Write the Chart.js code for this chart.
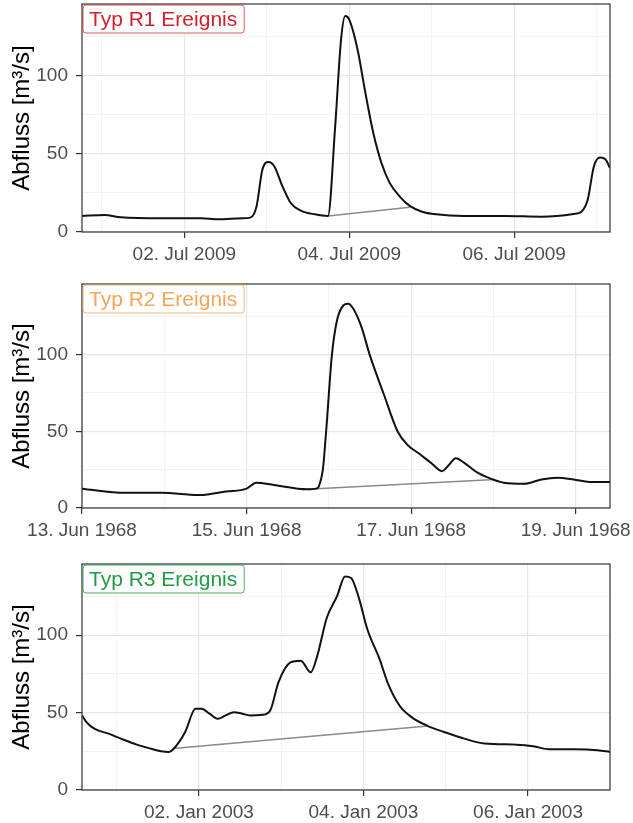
<!DOCTYPE html>
<html>
<head>
<meta charset="utf-8">
<script src="https://cdn.jsdelivr.net/npm/chart.js@4/dist/chart.umd.min.js"></script>
<style>
  html, body { margin: 0; padding: 0; background: #fff; overflow: hidden; }
  body { width: 633px; height: 823px; position: relative; }
  canvas { position: absolute; left: 0; }
</style>
</head>
<body>
<canvas id="r1" width="633" height="265" style="top:0px"></canvas>
<canvas id="r2" width="633" height="261" style="top:280px"></canvas>
<canvas id="r3" width="633" height="263" style="top:560px"></canvas>
<script>
// Abfluss-Ganglinien, Zeit in Stunden ab Mitternacht des jeweiligen Starttags

// R1: ab 01. Jul 2009 00:00
const r1Hours = [-5.8, 0.8, 5.5, 17.3, 29, 33.8, 40.8, 43.2, 45, 46.7, 48.5, 50.2, 52.6, 55, 57.9, 62, 65.8,
  67.9, 69.6, 70.8, 72, 74.4, 76.7, 79, 81.4, 83.8, 86.7, 89.6, 93.2, 97.3, 105.5, 117.3, 127.9, 137.3,
  139.6, 141.4, 143.2, 145, 146.7, 147.9];
const r1Flow = [10.3, 10.9, 9.4, 8.8, 8.8, 8.1, 8.8, 9.2, 16.3, 39.8, 44.8, 42, 29, 18.4, 13.7, 11.3, 10.3,
  67.7, 123, 138.3, 136, 117, 89, 63.4, 44, 31.3, 22.7, 16.7, 13, 11.3, 10.3, 10.3, 9.8, 11.5,
  13, 20.6, 42, 47.7, 46.2, 40.9];
const r1BaseHours = [65.8, 89.6];
const r1BaseFlow = [10.3, 15.8];
const r1TickHours = [24, 72, 120];
const r1TickLabels = ['02. Jul 2009', '04. Jul 2009', '06. Jul 2009'];
const r1MinorHours = [0, 48, 96, 144];

// R2: ab 13. Jun 1968 00:00
const r2Hours = [0, 11.3, 23, 35, 37, 42, 48, 50.8, 56, 65.6, 68.5, 69.1, 70.3, 71.2, 72.9, 74.4, 76.2, 77.6,
  79.1, 81.5, 83.9, 88, 92.1, 95, 98.6, 102, 105, 107, 109, 111.6, 115, 119, 123, 129, 134, 138.7, 143.4, 148, 154];
const r2Flow = [12.6, 10, 10, 8.4, 9, 10.7, 12.6, 16.5, 15, 12.2, 12.8, 14.3, 26, 49.7, 100, 122.5, 132, 133.2,
  130, 118, 100, 74.3, 49.7, 41, 35, 29, 24, 28, 32.5, 29.3, 23.5, 19.3, 16.5, 15.8, 18.6, 19.7, 18.6, 17, 17];
const r2BaseHours = [65.6, 120.4];
const r2BaseFlow = [12.2, 18.6];
const r2TickHours = [0, 48, 96, 144];
const r2TickLabels = ['13. Jun 1968', '15. Jun 1968', '17. Jun 1968', '19. Jun 1968'];
const r2MinorHours = [24, 72, 120];

// R3: ab 01. Jan 2003 00:00
const r3Hours = [-10.1, -8.8, -6.5, -2.4, 1.2, 5.9, 10.6, 13, 15.3, 16.5, 20, 23, 24.8, 27.1, 29.5, 31.8,
  34.2, 36.6, 38.9, 42.5, 44.8, 47.2, 50.7, 53.7, 56.6, 58.4, 61.3, 64.3, 66.6, 68.4, 70.8, 73.1, 76.7,
  79, 82.5, 86, 90.8, 95.5, 101.4, 107.3, 116.7, 121.5, 126.2, 133.3, 140.3, 143.9];
const r3Flow = [48.2, 43.9, 39.6, 36.4, 33.2, 29.3, 26.3, 25, 24.6, 26.3, 37.5, 52.5, 52.5, 49.3, 46, 48.2,
  50.3, 49.3, 48.2, 48.6, 51.4, 69.6, 82.4, 83.5, 76, 85.7, 111.3, 125.3, 138, 137, 123, 104, 84.6,
  69.6, 54.6, 47.1, 41.3, 37.5, 33.2, 30, 29.3, 28.3, 26.3, 26.3, 25.7, 24.6];
const r3BaseHours = [16.5, 90.8];
const r3BaseFlow = [26.8, 41.3];
const r3TickHours = [24, 72, 120];
const r3TickLabels = ['02. Jan 2003', '04. Jan 2003', '06. Jan 2003'];
const r3MinorHours = [0, 48, 96, 144];

const yTicks = [0, 50, 100];
const yMinor = [25, 75, 125];

const FONT = '"Liberation Sans", Arial, Helvetica, sans-serif';
Chart.defaults.font.family = FONT;

const toPoints = (xs, ys) => xs.map((x, i) => ({ x: x, y: ys[i] }));

// Rahmen um die Zeichenfläche und Ereignis-Kennung oben links
const framePlugin = {
  id: 'frame',
  afterDatasetsDraw(chart, args, opts) {
    const { ctx, chartArea: a } = chart;
    ctx.save();
    ctx.strokeStyle = '#333333';
    ctx.lineWidth = 1.2;
    ctx.strokeRect(a.left, a.top, a.width, a.height);

    ctx.font = '21px ' + FONT;
    const tw = ctx.measureText(opts.text).width;
    const bx = a.left + 1, by = a.top + 1, bw = tw + 13, bh = 28;
    ctx.beginPath();
    ctx.roundRect(bx, by, bw, bh, 3);
    ctx.fillStyle = '#ffffff';
    ctx.fill();
    ctx.strokeStyle = opts.border;
    ctx.lineWidth = 1;
    ctx.stroke();
    ctx.fillStyle = opts.color;
    ctx.textBaseline = 'middle';
    ctx.fillText(opts.text, bx + 6, by + bh / 2 + 1);
    ctx.restore();
  }
};

function makePanel(id, cfg) {
  const majorX = cfg.ticks;
  const allX = majorX.concat(cfg.minor).sort((a, b) => a - b);
  const allY = yTicks.concat(yMinor).sort((a, b) => a - b);
  const isMajorX = v => majorX.includes(v);
  const isMajorY = v => yTicks.includes(v);

  new Chart(document.getElementById(id), {
    type: 'line',
    data: {
      datasets: [{
        data: toPoints(cfg.hours, cfg.flow),
        borderColor: '#111111',
        borderWidth: 2,
        pointRadius: 0,
        cubicInterpolationMode: 'monotone'
      }, {
        data: toPoints(cfg.baseHours, cfg.baseFlow),
        borderColor: '#8a8a8a',
        borderWidth: 1.5,
        pointRadius: 0
      }]
    },
    options: {
      responsive: false,
      animation: false,
      layout: { padding: { top: 4, right: 23, bottom: 0, left: 0 } },
      plugins: {
        legend: { display: false },
        tooltip: { enabled: false },
        frame: { text: cfg.tag, color: cfg.color, border: cfg.border }
      },
      scales: {
        x: {
          type: 'linear',
          min: cfg.min,
          max: cfg.max,
          afterBuildTicks: s => { s.ticks = allX.map(v => ({ value: v })); },
          afterFit: s => { s.height = 33; s.paddingLeft = 0; s.paddingRight = 0; },
          border: { display: false },
          grid: {
            color: c => isMajorX(c.tick.value) ? '#e6e6e6' : '#f0f0f0',
            lineWidth: c => isMajorX(c.tick.value) ? 1.2 : 0.8,
            tickColor: c => isMajorX(c.tick.value) ? '#333333' : 'rgba(0,0,0,0)',
            tickLength: 6
          },
          ticks: {
            autoSkip: false,
            maxRotation: 0,
            padding: 5,
            color: '#4d4d4d',
            font: { size: 19 },
            callback: v => isMajorX(v) ? cfg.labels[majorX.indexOf(v)] : ''
          }
        },
        y: {
          min: 0,
          max: 146,
          afterBuildTicks: s => { s.ticks = allY.map(v => ({ value: v })); },
          afterFit: s => { s.width = 82; s.paddingTop = 0; s.paddingBottom = 0; },
          border: { display: false },
          grid: {
            color: c => isMajorY(c.tick.value) ? '#e6e6e6' : '#f0f0f0',
            lineWidth: c => isMajorY(c.tick.value) ? 1.2 : 0.8,
            tickColor: c => isMajorY(c.tick.value) ? '#333333' : 'rgba(0,0,0,0)',
            tickLength: 6
          },
          ticks: {
            padding: 8,
            color: '#4d4d4d',
            font: { size: 19 },
            callback: v => isMajorY(v) ? String(v) : ''
          },
          title: {
            display: true,
            text: 'Abfluss [m³/s]',
            color: '#000000',
            font: { size: 24 },
            padding: { top: 8, bottom: 0 }
          }
        }
      }
    },
    plugins: [framePlugin]
  });
}

makePanel('r1', {
  hours: r1Hours, flow: r1Flow, baseHours: r1BaseHours, baseFlow: r1BaseFlow,
  ticks: r1TickHours, labels: r1TickLabels, minor: r1MinorHours, min: -5.8, max: 147.9,
  tag: 'Typ R1 Ereignis', color: '#d31f2a', border: 'rgba(211,31,42,0.75)'
});
makePanel('r2', {
  hours: r2Hours, flow: r2Flow, baseHours: r2BaseHours, baseFlow: r2BaseFlow,
  ticks: r2TickHours, labels: r2TickLabels, minor: r2MinorHours, min: 0, max: 154,
  tag: 'Typ R2 Ereignis', color: '#f5a45a', border: 'rgba(245,164,90,0.8)'
});
makePanel('r3', {
  hours: r3Hours, flow: r3Flow, baseHours: r3BaseHours, baseFlow: r3BaseFlow,
  ticks: r3TickHours, labels: r3TickLabels, minor: r3MinorHours, min: -10.1, max: 143.9,
  tag: 'Typ R3 Ereignis', color: '#1f9a45', border: 'rgba(31,154,69,0.8)'
});
</script>
</body>
</html>
